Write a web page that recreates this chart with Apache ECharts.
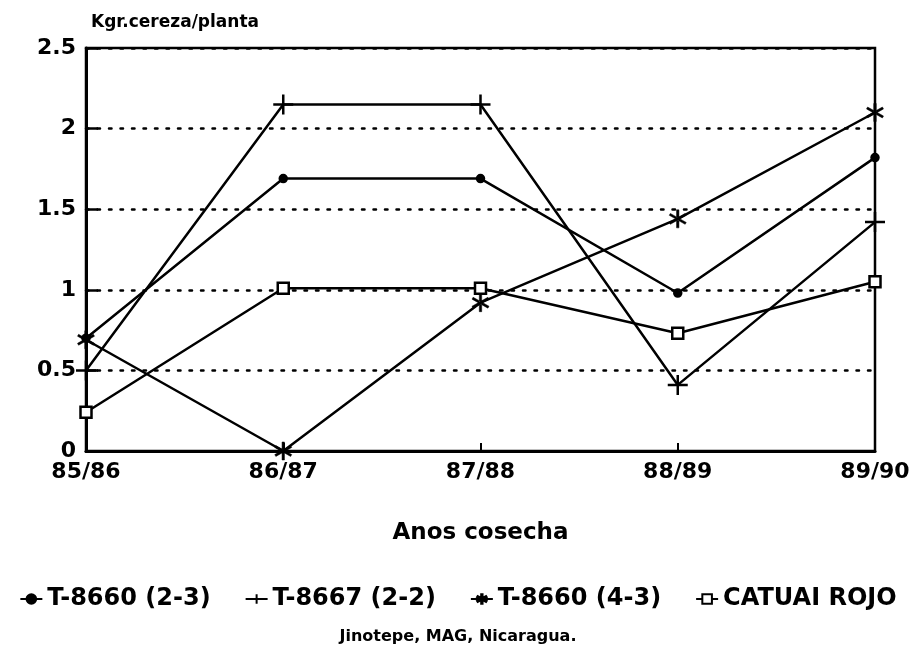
<!DOCTYPE html>
<html>
<head>
<meta charset="utf-8">
<script src="https://cdn.jsdelivr.net/npm/echarts@6/dist/echarts.min.js"></script>
<style>
    html, body { margin: 0; padding: 0; background: #fff; }
    #chart { width: 916px; height: 650px; }
</style>
</head>
<body>
<div id="chart"></div>
<script>
// cosechas
var years = ['85/86', '86/87', '87/88', '88/89', '89/90'];
// Kgr. cereza por planta
var t8660_23 = [0.7, 1.69, 1.69, 0.98, 1.82];
var t8667_22 = [0.5, 2.15, 2.15, 0.41, 1.42];
var t8660_43 = [0.69, 0, 0.92, 1.44, 2.1];
var catuai = [0.24, 1.01, 1.01, 0.73, 1.05];
var yTicks = [0, 0.5, 1, 1.5, 2, 2.5];

var FONT = '"DejaVu Sans", "Liberation Sans", Arial, sans-serif';
var plusPath = 'path://M0,-10L0,10M-10,0L10,0';
// asterisco: tres barras rellenas
var starPath = 'path://M-1.3,-10L1.3,-10L1.3,10L-1.3,10Z' +
    'M8.06,6.04L9.26,3.96L-8.06,-6.04L-9.26,-3.96Z' +
    'M9.26,-3.96L8.06,-6.04L-9.26,3.96L-8.06,6.04Z';

function serie(name, data, symbol, size, fill, bw) {
    return {
        name: name,
        type: 'line',
        data: data,
        symbol: symbol,
        symbolSize: size,
        showSymbol: true,
        z: 5,
        lineStyle: { color: '#000', width: 2.5 },
        itemStyle: {
            color: fill || '#000',
            borderColor: '#000',
            borderWidth: bw == null ? 2.5 : bw
        },
        emphasis: { disabled: true }
    };
}

var chart = echarts.init(document.getElementById('chart'));
var option = {
    animation: false,
    backgroundColor: '#fff',
    textStyle: { fontFamily: FONT },
    title: [
        {
            text: 'Kgr.cereza/planta',
            left: 86, top: 9,
            textStyle: { fontSize: 17, fontWeight: 'bold', color: '#000', fontFamily: FONT }
        },
        {
            text: 'Jinotepe, MAG, Nicaragua.',
            left: 'center', top: 624,
            textStyle: { fontSize: 16, fontWeight: 'bold', color: '#000', fontFamily: FONT }
        }
    ],
    legend: {
        top: 582,
        left: 'center',
        itemWidth: 22,
        itemHeight: 12,
        itemGap: 34,
        textStyle: { fontSize: 24, fontWeight: 'bold', color: '#000', fontFamily: FONT },
        data: ['T-8660 (2-3)', 'T-8667 (2-2)', 'T-8660 (4-3)', 'CATUAI ROJO']
    },
    grid: {
        left: 86, right: 41, top: 48, bottom: 199,
        show: true,
        borderColor: '#000',
        borderWidth: 2.5,
        backgroundColor: 'transparent'
    },
    xAxis: {
        type: 'category',
        data: years,
        boundaryGap: false,
        name: 'Anos cosecha',
        nameLocation: 'middle',
        nameGap: 71,
        nameTextStyle: { fontSize: 23, fontWeight: 'bold', color: '#000', fontFamily: FONT },
        axisLine: { lineStyle: { color: '#000', width: 3 } },
        axisTick: { show: true, inside: true, length: 8, lineStyle: { color: '#000', width: 2 } },
        axisLabel: { fontSize: 22, fontWeight: 'bold', color: '#000', margin: 10, fontFamily: FONT },
        splitLine: { show: false }
    },
    yAxis: {
        type: 'value',
        min: yTicks[0],
        max: yTicks[yTicks.length - 1],
        interval: 0.5,
        axisLine: { show: true, lineStyle: { color: '#000', width: 3 } },
        axisTick: { show: true, inside: true, length: 12, lineStyle: { color: '#000', width: 2.5 } },
        axisLabel: { fontSize: 22, fontWeight: 'bold', color: '#000', margin: 10, fontFamily: FONT },
        splitLine: {
            show: true,
            lineStyle: { color: '#000', width: 2.5, type: [2.5, 9], cap: 'round' }
        }
    },
    series: [
        serie('T-8660 (2-3)', t8660_23, 'circle', 7),
        serie('T-8667 (2-2)', t8667_22, plusPath, [20, 20]),
        serie('T-8660 (4-3)', t8660_43, starPath, [17, 18], '#000', 0.5),
        serie('CATUAI ROJO', catuai, 'rect', 11, '#fff')
    ]
};
chart.setOption(option);
</script>
</body>
</html>
